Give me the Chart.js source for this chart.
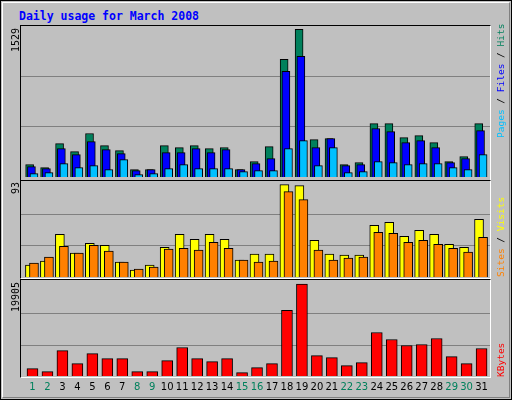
<!DOCTYPE html>
<html><head><meta charset="utf-8">
<script src="https://cdn.jsdelivr.net/npm/chart.js@4.4.1/dist/chart.umd.min.js"></script>
<style>
html,body{margin:0;padding:0;background:#fff;}
#wrap{position:absolute;left:0;top:0;width:510px;height:398px;background:#C0C0C0;border:1px solid #000;}
#inner{position:absolute;left:1px;top:1px;width:506px;height:394px;border-top:1px solid #fff;border-left:1px solid #fff;border-right:1px solid #808080;border-bottom:1px solid #808080;}
.panel{position:absolute;left:20px;width:469px;border-top:1px solid #000;border-left:1px solid #000;border-right:1px solid #fff;border-bottom:1px solid #fff;pointer-events:none;}
canvas{position:absolute;}
.rot{position:absolute;transform-origin:0 0;transform:rotate(-90deg);white-space:nowrap;font-family:"DejaVu Sans Mono",monospace;line-height:1;}
#title{position:absolute;left:19px;top:9px;font:bold 11.5px "DejaVu Sans Mono",monospace;color:#0000FF;}
</style></head>
<body>
<div id="wrap"><div id="inner"></div></div>
<div id="title">Daily usage for March 2008</div>
<canvas id="c1" style="left:21px;top:25px;width:470px;height:155px" width="470" height="155"></canvas>
<canvas id="c2" style="left:21px;top:180px;width:470px;height:99px" width="470" height="99"></canvas>
<canvas id="c3" style="left:21px;top:279px;width:470px;height:120px" width="470" height="120"></canvas>
<div class="panel" style="top:25px;height:154px"></div>
<div class="panel" style="top:180px;height:97px"></div>
<div class="panel" style="top:279px;height:97px"></div>
<div class="rot" style="left:11px;top:52px;font-size:10px;color:#000">1529</div>
<div class="rot" style="left:11px;top:194px;font-size:10px;color:#000">93</div>
<div class="rot" style="left:11px;top:312px;font-size:10px;color:#000">19905</div>
<div class="rot" style="left:496px;top:138px;font-size:9.5px"><span style="color:#00C0FF">Pages</span><span style="color:#000"> / </span><span style="color:#0000FF">Files</span><span style="color:#000"> / </span><span style="color:#00805C">Hits</span></div>
<div class="rot" style="left:496px;top:277px;font-size:9.5px"><span style="color:#FF8000">Sites</span><span style="color:#000"> / </span><span style="color:#FFFF00">Visits</span></div>
<div class="rot" style="left:496px;top:377px;font-size:9.5px;color:#FF0000">KBytes</div>
<script>
const days = Array.from({length:31},(_,i)=>i+1);
const weekend = [1,2,8,9,15,16,22,23,29,30];
const hits   = [128,97,346,263,450,325,273,76,76,325,304,325,294,304,76,159,315,1218,1529,387,398,128,149,553,553,408,429,356,159,211,553];
const files  = [107,86,294,232,367,284,242,66,76,253,253,294,253,284,76,138,190,1093,1249,304,398,118,128,502,470,356,377,304,149,190,481];
const pages  = [35,45,138,97,118,76,180,24,35,86,128,86,86,86,55,66,66,294,377,118,304,45,55,159,149,128,138,138,97,76,232];
const sites  = [12,16,43,24,34,32,15,7,12,30,43,38,43,38,17,23,23,93,92,37,23,22,22,52,55,41,47,43,33,30,58];
const visits = [14,20,31,24,32,26,15,8,10,28,29,27,35,29,17,15,16,86,78,27,17,19,20,45,44,35,37,33,29,25,40];
const kbytes = [1597,944,5518,2686,4864,3775,3775,944,944,3340,6171,3775,3122,3775,726,1815,2686,14230,19905,4429,3993,2251,2904,9438,7913,6607,6824,8131,4211,2686,5953];

function ds(vals, off, color, order, w){
  return {data: vals.map((v,i)=>({x:days[i]+off,y:v})), backgroundColor:color, borderColor:'#000',
    borderWidth:1, borderSkipped:'bottom', barThickness:w, order:order, grouped:false};
}
const gridPlugin={id:'thirds',beforeDatasetsDraw(chart){
  const ctx=chart.ctx, ys=chart.scales.y, a=chart.chartArea;
  ctx.save(); ctx.strokeStyle='#808080'; ctx.lineWidth=1;
  [1,2].forEach(k=>{const y=Math.round(ys.getPixelForValue(ys.max*k/3))+0.5;
    ctx.beginPath(); ctx.moveTo(a.left,y); ctx.lineTo(a.right,y); ctx.stroke();});
  ctx.restore();}};
function opts(ymax, pad){
  return {responsive:false, animation:false, devicePixelRatio:1,
    layout:{padding:pad},
    plugins:{legend:{display:false},tooltip:{enabled:false}},
    scales:{
      x:{type:'linear',min:0.233,max:31.63,offset:false,display:false},
      y:{min:0,max:ymax,display:false}
    }};
}
new Chart(document.getElementById('c1'),{type:'bar',
  data:{datasets:[ds(hits,-0.19,'#00805C',3,8),ds(files,-0.07,'#0000FF',2,8),ds(pages,0.1,'#00C0FF',1,8)]},
  options:opts(1574,{top:0,bottom:3,left:0,right:0}), plugins:[gridPlugin]});
new Chart(document.getElementById('c2'),{type:'bar',
  data:{datasets:[ds(sites,-0.17,'#FFFF00',2,9),ds(visits,0.1,'#FF8000',1,9)]},
  options:opts(95.7,{top:2,bottom:2,left:0,right:0}), plugins:[gridPlugin]});
const labelPlugin={id:'days',afterDraw(chart){
  const ctx=chart.ctx, xs=chart.scales.x;
  ctx.save(); ctx.font='10px "DejaVu Sans", sans-serif'; ctx.textAlign='center'; ctx.textBaseline='top';
  days.forEach(d=>{ctx.fillStyle=weekend.includes(d)?'#00805C':'#000';
    ctx.fillText(String(d), xs.getPixelForValue(d), chart.chartArea.bottom+6);});
  ctx.restore();}};
new Chart(document.getElementById('c3'),{type:'bar',
  data:{datasets:[ds(kbytes,0,'#FF0000',1,11)]},
  options:opts(20378,{top:3,bottom:23,left:0,right:0}), plugins:[gridPlugin,labelPlugin]});
</script>
</body></html>
